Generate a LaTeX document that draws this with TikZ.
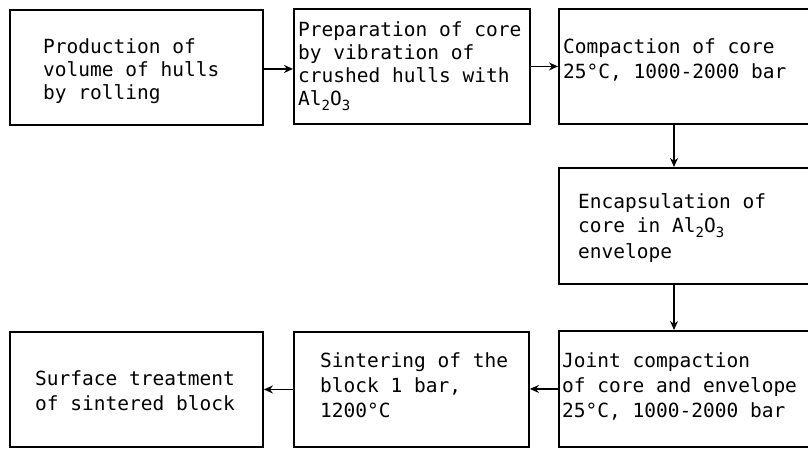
\documentclass[tikz,border=0pt]{standalone}
\usepackage{fontspec}
\setmonofont{DejaVu Sans Mono}
\usetikzlibrary{arrows.meta}
\newcommand{\mysub}[1]{\raisebox{-0.22em}{\fontsize{14pt}{14pt}\selectfont #1}}
\tikzset{
  stepbox/.style={draw, line width=1.9pt, rectangle, inner sep=0pt, anchor=north west},
  steptext/.style={anchor=base west, inner sep=0pt, align=left,
    font=\ttfamily\fontsize{19.5pt}{25pt}\selectfont},
  tighttext/.style={steptext, font=\ttfamily\fontsize{19.5pt}{23pt}\selectfont},
  flow/.style={line width=1.8pt, -{Stealth[length=9pt,width=8pt,open]}}
}
\begin{document}
\begin{tikzpicture}[x=1pt,y=-1pt]
\useasboundingbox (0,0) rectangle (808,449);
\clip (0,0) rectangle (808,449);
% boxes
\node[stepbox, minimum width=253pt, minimum height=115pt] (b1) at (9,9) {};
\node[stepbox, minimum width=236pt, minimum height=115pt] (b2) at (293,8) {};
\node[stepbox, minimum width=262pt, minimum height=115pt] (b3) at (558,8) {};
\node[stepbox, minimum width=262pt, minimum height=116pt] (b4) at (558,167) {};
\node[stepbox, minimum width=262pt, minimum height=116pt] (b5) at (558,330) {};
\node[stepbox, minimum width=235pt, minimum height=115pt] (b6) at (293,331) {};
\node[stepbox, minimum width=253pt, minimum height=115pt] (b7) at (9,331) {};
% texts (anchored at baseline of last line)
\node[tighttext] (t1) at (43,100) {Production of\\volume of hulls\\by rolling};
\node[tighttext] (t2) at (298,106) {Preparation of core\\by vibration of\\crushed hulls with\\Al\mysub{2}O\mysub{3}};
\node[steptext] (t3) at (563,79) {Compaction of core\\25°C, 1000-2000 bar};
\node[steptext] (t4) at (578,258) {Encapsulation of\\core in Al\mysub{2}O\mysub{3}\\envelope};
\node[steptext] (t5) at (562,417) {Joint compaction\\of core and envelope\\25°C, 1000-2000 bar};
\node[steptext] (t6) at (320,417) {Sintering of the\\block 1 bar,\\1200°C};
\node[steptext] (t7) at (35,410) {Surface treatment\\of sintered block};
% connectors
\draw[flow] ([yshift=-1.5pt]b1.east) -- ([yshift=-1.5pt]b1.east -| b2.west);
\draw[flow] (b2.east) -- (b2.east -| b3.west);
\draw[flow] ([xshift=116pt]b3.south west) -- ([xshift=116pt]b4.north west);
\draw[flow] ([xshift=116pt]b4.south west) -- ([xshift=116pt]b5.north west);
\draw[flow] (b5.west) -- (b5.west -| b6.east);
\draw[flow] (b6.west) -- (b6.west -| b7.east);
\end{tikzpicture}
\end{document}
